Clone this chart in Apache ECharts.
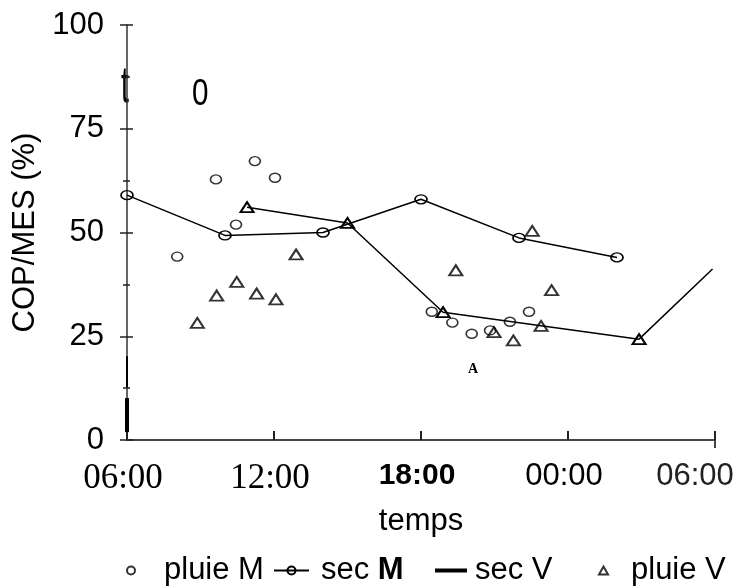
<!DOCTYPE html>
<html>
<head>
<meta charset="utf-8">
<script src="https://cdn.jsdelivr.net/npm/echarts@6/dist/echarts.min.js"></script>
<style>
  html, body { margin: 0; padding: 0; background: #fff; }
  #chart { width: 750px; height: 586px; }
</style>
</head>
<body>
<div id="chart"></div>
<script>
// ---- data (hours after 06:00, COP/MES %) ----
const xTickLabels = ['06:00', '12:00', '18:00', '00:00', '06:00'];
const xTickStyles = ['serif', 'serif', 'bold', 'sans', 'light'];
const yTickLabels = ['0', '25', '50', '75', '100'];

const pluieM_h = [2.05, 3.63, 4.45, 5.22, 6.04, 12.44, 13.28, 14.07, 14.82, 15.63, 16.41];
const pluieM_v = [44.2, 62.8, 51.9, 67.2, 63.2, 30.9, 28.3, 25.6, 26.4, 28.5, 30.9];

const secM_h = [0, 4, 8, 12, 16, 20];
const secM_v = [59, 49.3, 50, 58, 48.7, 44];

const secV_h = [4.9, 9, 12.9, 20.9, 23.9];
const secV_v = [56.1, 52.3, 30.8, 24.3, 41.2];
const secV_marker = [true, true, true, true, false];

const pluieV_h = [2.87, 3.66, 4.48, 5.29, 6.08, 6.9, 13.42, 14.98, 15.77, 16.54, 16.9, 17.33];
const pluieV_v = [28.2, 34.8, 38.1, 35.3, 33.9, 44.7, 40.9, 26.0, 24.0, 50.4, 27.5, 36.1];

// scan artifacts on the y axis (thick segments), in data units
const axisArtifacts = [[0, 12.8, 20.2, 2], [0, 1.9, 10.1, 4]];

const FONT = '"Liberation Sans", Arial, sans-serif';
const zip = (a, b) => a.map((v, i) => [v, b[i]]);

const chart = echarts.init(document.getElementById('chart'), null, { renderer: 'canvas' });

const hollow = { color: 'rgba(0,0,0,0)', borderColor: '#000', borderWidth: 1.5 };
const legendText = (pad) => ({ fontFamily: FONT, fontSize: 31, color: '#000', padding: [0, 0, 0, pad] });

const option = {
  animation: false,
  backgroundColor: '#fff',
  grid: { left: 127, right: 35, top: 25, bottom: 146, containLabel: false, outerBoundsMode: 'none' },
  xAxis: [{
    type: 'value', min: 0, max: 24, interval: 6,
    name: 'temps', nameLocation: 'middle', nameGap: 66,
    nameTextStyle: { fontFamily: FONT, fontSize: 31, color: '#000' },
    axisLine: { lineStyle: { color: '#444', width: 2 } },
    axisTick: { inside: true, length: 9, lineStyle: { color: '#222', width: 2 } },
    splitLine: { show: false },
    axisLabel: {
      margin: 21, color: '#000',
      formatter: (v) => { const i = Math.round(v / 6); return '{' + xTickStyles[i] + '|' + xTickLabels[i] + '}'; },
      rich: {
        serif: { fontFamily: '"Liberation Serif", serif', fontSize: 35, color: '#000', padding: [0, 8, 0, 0] },
        bold: { fontFamily: FONT, fontWeight: 'bold', fontSize: 30, color: '#000', padding: [0, 8, 0, 0] },
        sans: { fontFamily: FONT, fontSize: 31, color: '#000', padding: [0, 8, 0, 0] },
        light: { fontFamily: FONT, fontSize: 31, color: '#222', padding: [0, 40, 0, 0] }
      }
    }
  }, {
    type: 'value', min: 0, max: 24, interval: 6, position: 'bottom', offset: 0,
    axisLine: { show: false }, axisLabel: { show: false }, splitLine: { show: false },
    axisTick: { show: true, customValues: [24], inside: false, length: 8, lineStyle: { color: '#444', width: 2 } }
  }],
  yAxis: [{
    type: 'value', min: 0, max: 100, interval: 25,
    name: 'COP/MES (%)', nameLocation: 'middle', nameGap: 82, nameRotate: 90,
    nameTextStyle: { fontFamily: FONT, fontSize: 31, color: '#000' },
    axisLine: { show: true, lineStyle: { color: '#333', width: 1.5 } },
    axisTick: { show: true, inside: false, length: 7, lineStyle: { color: '#222', width: 1.5 } },
    minorTick: { show: true, splitNumber: 2, length: 4, lineStyle: { color: '#222', width: 1.5 } },
    splitLine: { show: false },
    axisLabel: {
      margin: 23, color: '#000', fontFamily: FONT, fontSize: 31,
      formatter: (v) => yTickLabels[Math.round(v / 25)]
    }
  }, {
    type: 'value', min: 0, max: 100, interval: 25, position: 'left', offset: 0,
    axisLine: { show: false }, axisLabel: { show: false }, splitLine: { show: false },
    axisTick: { show: true, inside: true, length: 6, lineStyle: { color: '#222', width: 1.5 } },
    minorTick: { show: true, splitNumber: 2, length: 3, lineStyle: { color: '#222', width: 1.5 } }
  }],
  legend: [
    { data: ['pluie M'], left: 121, top: 550, itemWidth: 8, itemHeight: 8, textStyle: legendText(24) },
    { data: ['sec M'], left: 268, top: 550, itemWidth: 35, itemHeight: 10,
      formatter: () => 'sec {b|M}',
      textStyle: Object.assign(legendText(7), { rich: { b: { fontFamily: FONT, fontSize: 31, fontWeight: 'bold', color: '#000' } } }) },
    { data: [{ name: 'sec V', icon: 'path://M0 0H40V5H0Z', itemStyle: { color: '#000', borderWidth: 0 } }],
      left: 430, top: 550, itemWidth: 32, itemHeight: 14, textStyle: legendText(3) },
    { data: ['pluie V'], left: 593, top: 550, itemWidth: 9, itemHeight: 8, textStyle: legendText(18) }
  ],
  series: [
    {
      name: 'pluie M', type: 'scatter', symbol: 'circle', symbolSize: [11, 9],
      itemStyle: hollow, data: zip(pluieM_h, pluieM_v), z: 3
    },
    {
      name: 'sec M', type: 'line', symbol: 'circle', symbolSize: [12, 9], showAllSymbol: true,
      lineStyle: { color: '#000', width: 1.5 }, itemStyle: hollow,
      data: zip(secM_h, secM_v), z: 2,
      markLine: {
        silent: true, symbol: 'none', label: { show: false },
        data: axisArtifacts.map(a => [
          { coord: [a[0], a[1]], lineStyle: { color: '#000', width: a[3], type: 'solid' } },
          { coord: [a[0], a[2]] }
        ])
      }
    },
    {
      name: 'sec V', type: 'line', showAllSymbol: true,
      lineStyle: { color: '#000', width: 1.5 },
      itemStyle: { color: 'rgba(0,0,0,0)', borderColor: '#000', borderWidth: 2 },
      data: secV_h.map((h, i) => ({ value: [h, secV_v[i]], symbol: secV_marker[i] ? 'triangle' : 'none', symbolSize: [13, 10] })),
      z: 2
    },
    {
      name: 'pluie V', type: 'scatter', symbol: 'triangle', symbolSize: [13, 10],
      itemStyle: { color: 'rgba(0,0,0,0)', borderColor: '#000', borderWidth: 2 },
      data: zip(pluieV_h, pluieV_v), z: 3
    }
  ],
  graphic: [
    { type: 'text', x: 121, y: 62, scaleX: 0.55, style: { text: 't', font: '52px "Liberation Sans Narrow", "Liberation Sans", sans-serif', fill: '#000' } },
    { type: 'text', x: 192, y: 76, scaleX: 0.8, style: { text: '0', font: '37px "Liberation Sans Narrow", "Liberation Sans", sans-serif', fill: '#000' } },
    { type: 'text', left: 468, top: 362, style: { text: 'A', font: 'bold 14px "Liberation Serif", serif', fill: '#000' } }
  ]
};

chart.setOption(option);
</script>
</body>
</html>
